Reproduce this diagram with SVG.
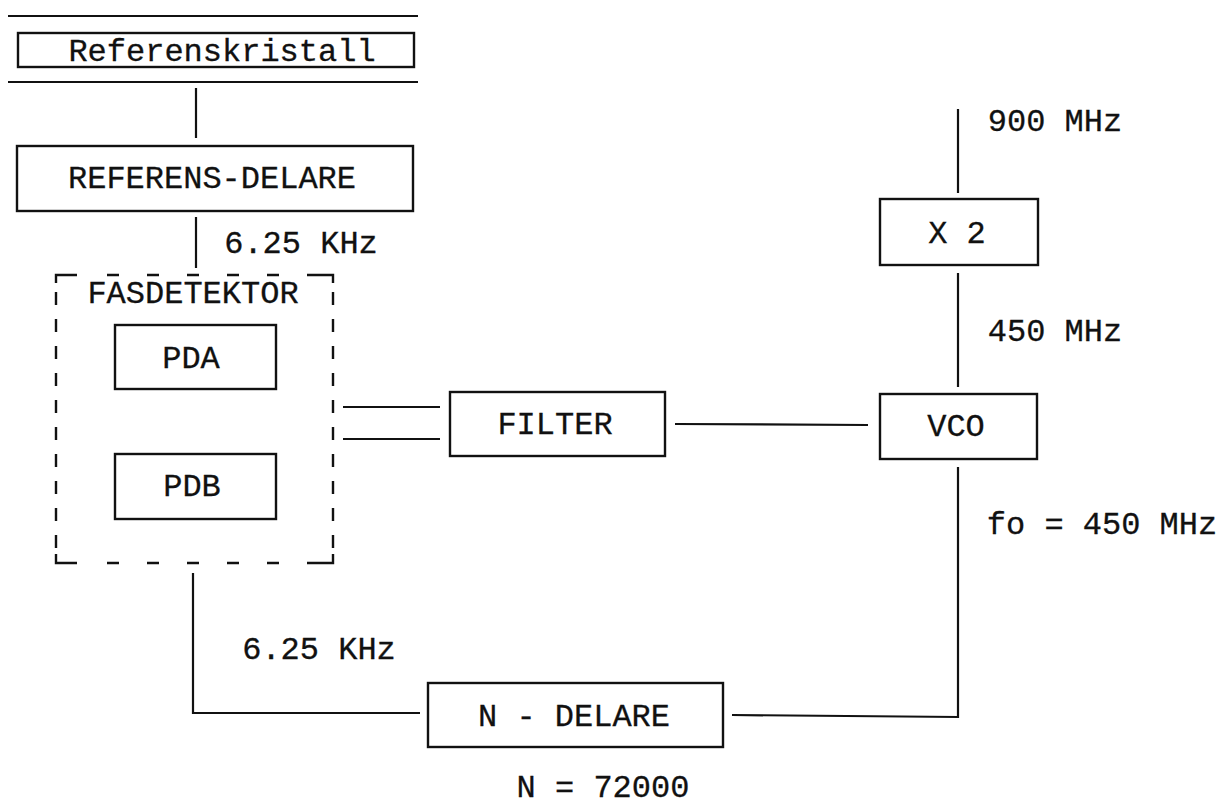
<svg xmlns="http://www.w3.org/2000/svg" width="1223" height="807" viewBox="0 0 1223 807">
<style>
  .box { fill: none; stroke: #111; stroke-width: 2.4; }
  .ln { fill: none; stroke: #111; stroke-width: 2.2; stroke-linecap: butt; }
  .dash { fill: none; stroke: #111; stroke-width: 2.4; }
  text { font-family: "Liberation Mono", "Courier New", monospace; font-size: 32px; fill: #111; stroke: #111; stroke-width: 0.3; text-anchor: middle; }
</style>
<rect width="1223" height="807" fill="#fff"/>

<g id="connectors">
  <line class="ln" x1="8" y1="16" x2="418" y2="16"/>
  <line class="ln" x1="8" y1="82" x2="418" y2="82"/>
  <line class="ln" x1="196" y1="88" x2="196" y2="138"/>
  <line class="ln" x1="196" y1="217" x2="196" y2="268"/>
  <line class="ln" x1="343" y1="407" x2="440" y2="407"/>
  <line class="ln" x1="343" y1="439" x2="440" y2="439"/>
  <line class="ln" x1="675" y1="424" x2="868" y2="425"/>
  <line class="ln" x1="958" y1="109" x2="958" y2="193"/>
  <line class="ln" x1="958" y1="273" x2="958" y2="387"/>
  <polyline class="ln" points="958,467 958,717 732,715"/>
  <polyline class="ln" points="193,573 193,713 420,713"/>
</g>

<g id="referenskristall">
  <rect class="box" x="18" y="33" width="396" height="34"/>
  <text x="222" y="61">Referenskristall</text>
</g>

<g id="referens-delare">
  <rect class="box" x="17" y="146" width="396" height="65"/>
  <text x="212" y="188">REFERENS-DELARE</text>
</g>

<g id="label-ref-freq">
  <text x="301" y="253">6.25 KHz</text>
</g>

<g id="fasdetektor">
  <path class="dash" d="M56 283 V275 H77 M107 275 H119 M147 275 H159 M187 275 H199 M227 275 H239 M267 275 H279 M307 275 H333 V283
    M56 292 V305 M56 319 V332 M56 346 V359 M56 373 V386 M56 400 V413 M56 427 V440 M56 454 V467 M56 481 V494 M56 508 V521 M56 535 V548
    M333 292 V305 M333 319 V332 M333 346 V359 M333 373 V386 M333 400 V413 M333 427 V440 M333 454 V467 M333 481 V494 M333 508 V521 M333 535 V548
    M56 554 V563 H77 M107 563 H119 M147 563 H159 M187 563 H199 M227 563 H239 M267 563 H279 M307 563 H333 V554"/>
  <text x="193" y="303">FASDETEKTOR</text>
</g>

<g id="pda">
  <rect class="box" x="115" y="325" width="161" height="64"/>
  <text x="191" y="368">PDA</text>
</g>

<g id="pdb">
  <rect class="box" x="115" y="454" width="161" height="65"/>
  <text x="192" y="496">PDB</text>
</g>

<g id="filter">
  <rect class="box" x="450" y="392" width="215" height="64"/>
  <text x="555" y="434">FILTER</text>
</g>

<g id="vco">
  <rect class="box" x="880" y="394" width="157" height="65"/>
  <text x="956" y="436">VCO</text>
</g>

<g id="x2">
  <rect class="box" x="880" y="199" width="158" height="66"/>
  <text x="957" y="243">X 2</text>
</g>

<g id="label-900">
  <text x="1055" y="131">900 MHz</text>
</g>
<g id="label-450">
  <text x="1055" y="341">450 MHz</text>
</g>
<g id="label-fo">
  <text x="1102" y="534">fo = 450 MHz</text>
</g>

<g id="label-fb-freq">
  <text x="319" y="659">6.25 KHz</text>
</g>

<g id="n-delare">
  <rect class="box" x="428" y="683" width="295" height="64"/>
  <text x="574" y="726">N - DELARE</text>
</g>

<g id="label-n">
  <text x="603" y="797">N = 72000</text>
</g>
</svg>
